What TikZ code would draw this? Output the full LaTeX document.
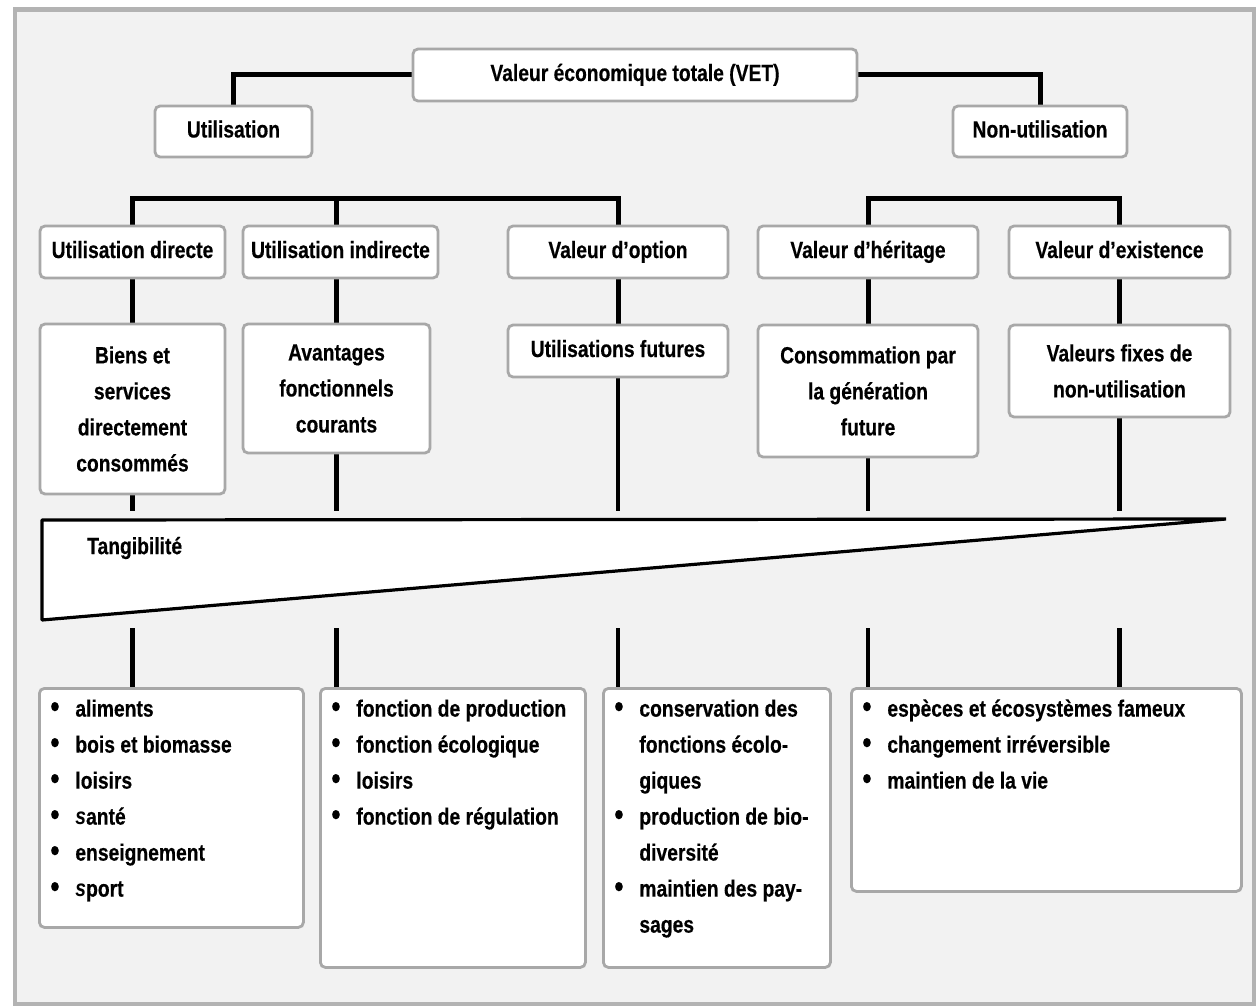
\documentclass[tikz,border=0pt]{standalone}
\usepackage{fontspec}
\setmainfont{Liberation Sans}[FakeStretch=0.82, BoldFeatures={FakeBold=0.4}]
\definecolor{panel}{HTML}{F2F2F2}
\definecolor{framegray}{HTML}{B3B3B3}
\definecolor{boxline}{HTML}{A8A8A8}
\newcommand\txt{\fontsize{23.5}{36}\selectfont\bfseries}
% one bullet item, and a continuation line of the same item
\newcommand\dotmark{\raisebox{-0.5pt}{\scalebox{1.35}{•}}}
\newcommand\itm[1]{\par\noindent\strut\makebox[26pt][l]{\hspace*{1pt}\dotmark}\mbox{#1}}
\newcommand\cont[1]{\par\noindent\strut\hspace*{26pt}\mbox{#1}}
\pgfdeclarelayer{back}
\pgfdeclarelayer{wires}
\pgfsetlayers{back,wires,main}
\begin{document}
\begin{tikzpicture}[x=1pt,y=-1pt,
  box/.style={draw=boxline, line width=2.8pt, fill=white, rounded corners=5pt,
    inner sep=0pt, align=center, font=\txt},
  oneline/.style={text height=17pt, text depth=5pt},
  listbox/.style={draw=boxline, line width=2.8pt, fill=white, rounded corners=5pt,
    inner xsep=10pt, inner ysep=3pt, anchor=north west, font=\txt},
  conn/.style={line width=5pt, black},
  tick/.style={line width=4.5pt, black},
  wedge/.style={draw=black, line width=3.2pt, fill=white, line join=bevel}]

\useasboundingbox (0,0) rectangle (1258,1006);
\begin{pgfonlayer}{back}
  \fill[white] (0,0) rectangle (1258,1006);
  \draw[framegray, line width=4.5pt, fill=panel] (15,9.5) rectangle (1254,1004);
\end{pgfonlayer}

% top level
\node[box, oneline, minimum width=444, minimum height=52] (vet) at (635,75) {Valeur économique totale (VET)};
\node[box, oneline, minimum width=157, minimum height=51] (util) at (233.5,131.5) {Utilisation};
\node[box, oneline, minimum width=174, minimum height=51] (nonutil) at (1040,131.5) {Non-utilisation};

% second level
\node[box, oneline, minimum width=185, minimum height=52] (udir) at (132.5,252) {Utilisation directe};
\node[box, oneline, minimum width=195, minimum height=52] (uind) at (340.5,252) {Utilisation indirecte};
\node[box, oneline, minimum width=220, minimum height=52] (opt)  at (618,252)   {Valeur d’option};
\node[box, oneline, minimum width=220, minimum height=52] (her)  at (868,252)   {Valeur d’héritage};
\node[box, oneline, minimum width=221, minimum height=52] (exi)  at (1119.5,252) {Valeur d’existence};

% third level
\node[box, minimum width=185, minimum height=170] (biens) at (132.5,409)
  {Biens et\\services\\directement\\consommés};
\node[box, minimum width=187, minimum height=129] (ava) at (336.5,388.5)
  {Avantages\\fonctionnels\\courants};
\node[box, oneline, minimum width=220, minimum height=52] (fut) at (618,351) {Utilisations futures};
\node[box, minimum width=220, minimum height=132] (cons) at (868,391)
  {Consommation par\\la génération\\future};
\node[box, minimum width=221, minimum height=92] (fix) at (1119.5,371)
  {Valeurs fixes de\\non-utilisation};

% tangibility wedge
\coordinate (tA) at (42,520);
\coordinate (tB) at (1226,519);
\coordinate (tC) at (42,620);
\draw[wedge] (tA) -- (tB) -- (tC) -- cycle;
\node[font=\txt, anchor=west, inner sep=0pt] (tang) at (87,548) {Tangibilité};

% example lists
\node[listbox] (listA) at (38,687) {\begin{minipage}[t][233pt][t]{244pt}
  \itm{aliments}
  \itm{bois et biomasse}
  \itm{loisirs}
  \itm{\textit{s}anté}
  \itm{enseignement}
  \itm{\textit{s}port}
\end{minipage}};
\node[listbox] (listB) at (319,687) {\begin{minipage}[t][273pt][t]{245pt}
  \itm{fonction de production}
  \itm{fonction écologique}
  \itm{loisirs}
  \itm{fonction de régulation}
\end{minipage}};
\node[listbox] (listC) at (602,687) {\begin{minipage}[t][273pt][t]{207pt}
  \itm{conservation des}
  \cont{fonctions écolo-}
  \cont{giques}
  \itm{production de bio-}
  \cont{diversité}
  \itm{maintien des pay-}
  \cont{sages}
\end{minipage}};
\node[listbox] (listD) at (850,687) {\begin{minipage}[t][197pt][t]{370pt}
  \itm{espèces et écosystèmes fameux}
  \itm{changement irréversible}
  \itm{maintien de la vie}
\end{minipage}};

\coordinate (busU) at (400,198);
\coordinate (busN) at (990,198);
\coordinate (tickHi) at (0,511);
\coordinate (tickLo) at (0,628);

\begin{pgfonlayer}{wires}
  \draw[conn] (vet.west) -| (util.north);
  \draw[conn] (vet.east) -| (nonutil.north);
  \draw[conn] (udir.north) |- (busU) -| (opt.north);
  \draw[conn] (ava.north |- busU) -- (ava.north |- uind.north);
  \draw[conn] (her.north) |- (busN) -| (exi.north);

  \draw[conn] (udir.south) -- (biens.north);
  \draw[conn] (ava.north |- uind.south) -- (ava.north);
  \draw[conn] (opt.south) -- (fut.north);
  \draw[conn] (her.south) -- (cons.north);
  \draw[conn] (exi.south) -- (fix.north);

  \foreach \n in {biens,ava,fut,cons,fix}
    \draw[tick] (\n.south) -- (\n.south |- tickHi);

  \draw[tick] (biens.south |- tickLo) -- (biens.south |- listA.north);
  \draw[tick] (ava.south |- tickLo) -- (ava.south |- listB.north);
  \draw[tick] (fut.south |- tickLo) -- (fut.south |- listC.north);
  \draw[tick] (cons.south |- tickLo) -- (cons.south |- listD.north);
  \draw[tick] (fix.south |- tickLo) -- (fix.south |- listD.north);
\end{pgfonlayer}
\end{tikzpicture}
\end{document}
